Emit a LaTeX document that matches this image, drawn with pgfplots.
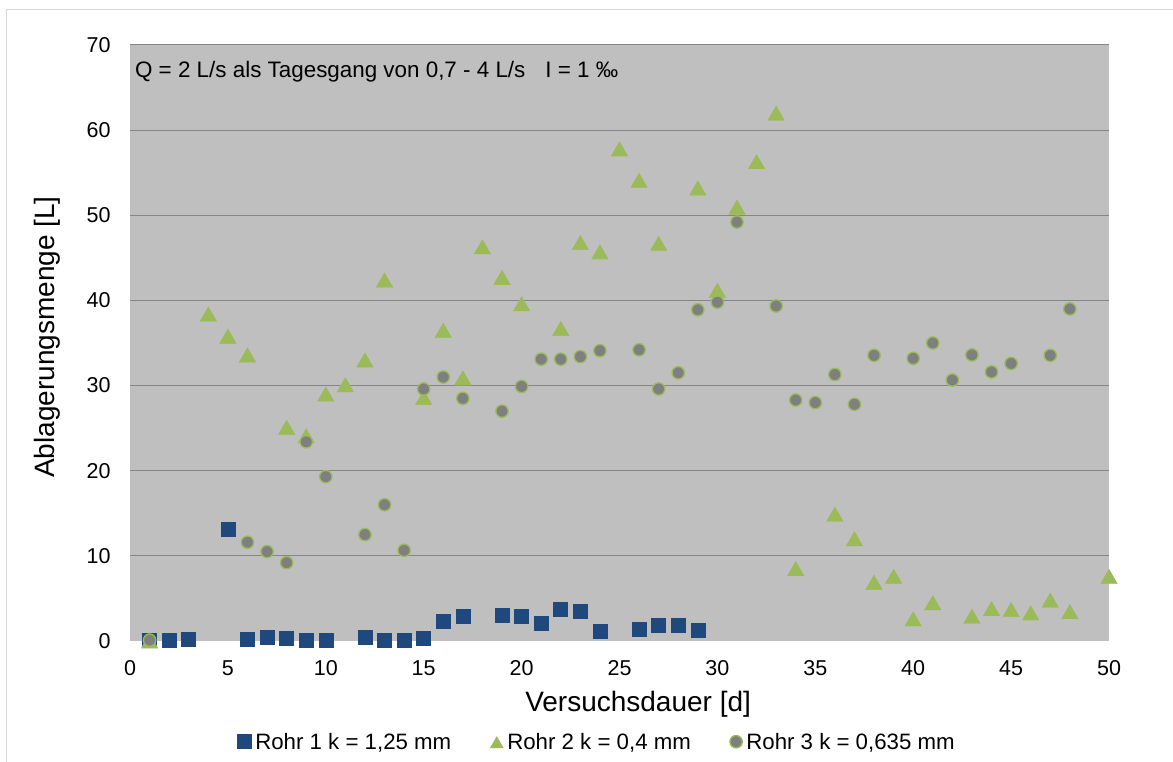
\documentclass[border=0pt]{standalone}
\usepackage{fontspec}
\setmainfont{Liberation Sans}
\usepackage{pgfplots}
\pgfplotsset{compat=1.18}
\definecolor{plotgray}{HTML}{BFBFBF}
\definecolor{gridgray}{HTML}{868686}
\definecolor{rohrblue}{HTML}{1F497D}
\definecolor{rohrgreen}{HTML}{9BBB59}
\definecolor{rohrgrey}{HTML}{7F7F7F}
\begin{document}
\begin{tikzpicture}[x=1pt,y=1pt]
\path[use as bounding box] (0,0) rectangle (1173,762);
\draw[black!15, line width=1pt] (6.5,0) -- (6.5,752) -- (1173,752);
\begin{axis}[
  at={(130pt,121pt)}, anchor=south west,
  scale only axis, width=979pt, height=596pt,
  xmin=0, xmax=50, ymin=0, ymax=70,
  clip=false,
  axis background/.style={fill=plotgray},
  axis line style={draw=none},
  xtick={0,5,...,50},
  ytick={10,20,...,70},
  extra y ticks={0},
  extra y tick style={grid=none},
  major tick length=0pt,
  tick style={draw=none},
  ymajorgrids,
  grid style={gridgray, line width=1pt},
  /pgf/number format/assume math mode=true,
  ticklabel style={font=\fontsize{21.5}{25}\selectfont},
  yticklabel style={xshift=-16pt},
  xticklabel style={yshift=-16pt},
  xlabel={Versuchsdauer [d]},
  ylabel={Ablagerungsmenge [L]},
  label style={font=\fontsize{28}{32}\selectfont},
  xlabel style={at={(axis description cs:0.519,-0.106)}, anchor=center},
  ylabel style={at={(axis description cs:-0.085,0.51)}, anchor=center},
  legend columns=3,
  legend style={draw=none, fill=none, at={(0.476,-0.169)}, anchor=center,
    font=\fontsize{22.25}{26}\selectfont,
    nodes={inner sep=0pt},
    /tikz/every odd column/.append style={column sep=4pt},
    /tikz/every even column/.append style={column sep=39pt},
    inner sep=0pt},
  legend image code/.code={\draw[#1] plot coordinates {(0pt,0pt)};},
]
\addplot[only marks, mark=square*, mark size=7pt, draw=rohrblue, fill=rohrblue, mark options={line width=0.6pt}] coordinates {
(1,0.1) (2,0.1) (3,0.25) (5,13.1) (6,0.15) (7,0.4) (8,0.35) (9,0.12) (10,0.08)
(12,0.4) (13,0.04) (14,0.08) (15,0.3) (16,2.35) (17,2.9) (19,3.0) (20,2.86)
(21,2.04) (22,3.72) (23,3.45) (24,1.17) (26,1.4) (27,1.84) (28,1.88) (29,1.29)
};
\addlegendentry{Rohr 1 k = 1,25 mm}
\addplot[only marks, mark=triangle*, mark size=9.5pt, draw=rohrgreen, fill=rohrgreen, mark options={yshift=-2.4pt}, legend image post style={mark size=7.5pt}] coordinates {
(1,0.0) (4,38.4) (5,35.8) (6,33.6) (8,25.1) (9,24.1) (10,29.0) (11,30.1) (12,33.0)
(13,42.4) (15,28.6) (16,36.5) (17,30.9) (18,46.3) (19,42.7) (20,39.6) (22,36.7)
(23,46.8) (24,45.7) (25,57.8) (26,54.1) (27,46.7) (29,53.2) (30,41.2) (31,50.95)
(32,56.3) (33,62.0) (34,8.5) (36,14.9) (37,12.0) (38,6.9) (39,7.6) (40,2.6)
(41,4.5) (43,2.9) (44,3.8) (45,3.7) (46,3.3) (47,4.8) (48,3.45) (50,7.6)
};
\addlegendentry{Rohr 2 k = 0,4 mm}
\addplot[only marks, mark=*, mark size=6.2pt, draw=rohrgreen, fill=rohrgrey, mark options={line width=1.3pt}] coordinates {
(1,0.1) (6,11.6) (7,10.5) (8,9.2) (9,23.4) (10,19.3) (12,12.5) (13,16.0) (14,10.65)
(15,29.6) (16,31.0) (17,28.5) (19,27.0) (20,29.9) (21,33.1) (22,33.1) (23,33.4)
(24,34.1) (26,34.2) (27,29.6) (28,31.5) (29,38.9) (30,39.8) (31,49.2) (33,39.35)
(34,28.3) (35,28.0) (36,31.3) (37,27.8) (38,33.55) (40,33.2) (41,35.0) (42,30.65)
(43,33.6) (44,31.6) (45,32.6) (47,33.55) (48,39.0)
};
\addlegendentry{Rohr 3 k = 0,635 mm}
\node[anchor=west, font=\fontsize{22.4}{26}\selectfont, inner sep=0pt] at (rel axis cs:0.005,0.955) {Q = 2 L/s als Tagesgang von 0,7 - 4 L/s\hspace{20pt}I = 1 ‰};
\end{axis}
\end{tikzpicture}
\end{document}
